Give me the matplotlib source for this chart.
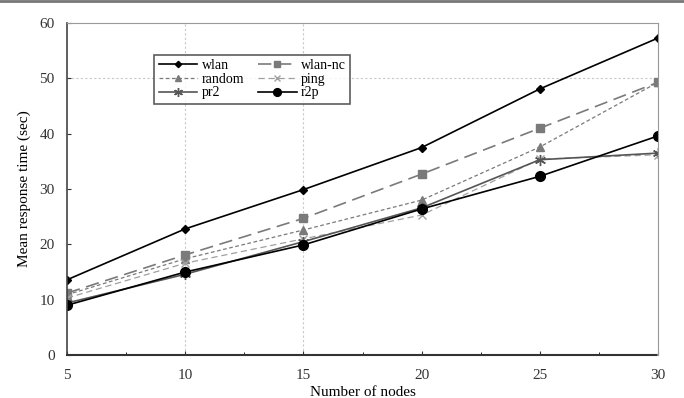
import matplotlib.pyplot as plt
from matplotlib.lines import Line2D

plt.rcParams['font.family'] = ['Liberation Serif', 'DejaVu Serif']

# data
nodes = [5, 10, 15, 20, 25, 30]
wlan = [13.6, 22.8, 29.9, 37.5, 48.1, 57.3]
wlan_nc = [11.2, 18.1, 24.7, 32.7, 41.0, 49.3]
random_ = [10.9, 17.4, 22.6, 28.0, 37.6, 49.3]
ping = [10.3, 16.6, 21.0, 25.3, 35.4, 36.2]
pr2 = [9.4, 14.6, 20.5, 26.6, 35.3, 36.5]
r2p = [9.0, 15.0, 19.9, 26.4, 32.3, 39.6]

fig = plt.figure(figsize=(6.84, 3.98), dpi=100)
ax = fig.add_axes([0.098, 0.108, 0.864, 0.834])

l1, = ax.plot(nodes, wlan, color='black', lw=1.2, marker='D', ms=4, label='wlan')
l2, = ax.plot(nodes, wlan_nc, color='#7a7a7a', lw=1.2, ls=(0, (8, 4)), marker='s', ms=6, label='wlan-nc')
l3, = ax.plot(nodes, random_, color='#7a7a7a', lw=0.9, ls=(0, (3, 2)), marker='^', ms=6, label='random')
l4, = ax.plot(nodes, ping, color='#a0a0a0', lw=0.9, ls=(0, (5, 3)), marker='x', ms=6, label='ping')
l5, = ax.plot(nodes, pr2, color='#555555', lw=1.2, marker=(6, 2, 0), ms=8, label='pr2')
l6, = ax.plot(nodes, r2p, color='black', lw=1.2, marker='o', ms=7, label='r2p')

ax.set_xlim(5, 30)
ax.set_ylim(0, 60)
ax.set_xticks([5, 10, 15, 20, 25, 30])
ax.set_xticks([7.5, 12.5, 17.5, 22.5, 27.5], minor=True)
ax.set_yticks(range(0, 61, 10))
ax.tick_params(axis='both', direction='in', labelsize=11, length=3, width=0.8, colors='#333333')
ax.tick_params(axis='x', which='minor', direction='in', length=2)
ax.tick_params(axis='x', pad=10)
ax.tick_params(axis='y', pad=9)

# gridlines like the source
for xv in [10, 15]:
    ax.axvline(xv, color='#c8c8c8', lw=0.8, ls=(0, (2, 2)), zorder=0)
ax.axhline(50, color='#c8c8c8', lw=0.8, ls=(0, (2, 2)), zorder=0)

ax.spines['left'].set_color('#444444')
ax.spines['left'].set_linewidth(1.2)
ax.spines['bottom'].set_color('#333333')
ax.spines['bottom'].set_linewidth(1.5)
ax.spines['bottom'].set_linestyle((0, (3, 1)))
ax.spines['top'].set_color('#999999')
ax.spines['right'].set_color('#999999')

ax.set_xlabel('Number of nodes', fontsize=11, labelpad=3)
ax.set_ylabel('Mean response time (sec)', fontsize=11, labelpad=6)

# row-major order like the original legend
handles = [l1, l3, l5, l2, l4, l6]
leg = ax.legend(handles=handles, labels=[h.get_label() for h in handles], ncol=2,
                loc='upper left', bbox_to_anchor=(0.136, 0.925), fontsize=10,
                frameon=True, fancybox=False, handlelength=2.8, handletextpad=0.3,
                columnspacing=1.0, labelspacing=0.05, borderpad=0.3, markerscale=0.8)
leg.get_frame().set_edgecolor('#333333')
leg.get_frame().set_linewidth(1.2)

# page border line at the very top
fig.add_artist(Line2D([0, 1], [0.997, 0.997], color='#777777', lw=2, transform=fig.transFigure))

fig.savefig('out.png', dpi=100)
